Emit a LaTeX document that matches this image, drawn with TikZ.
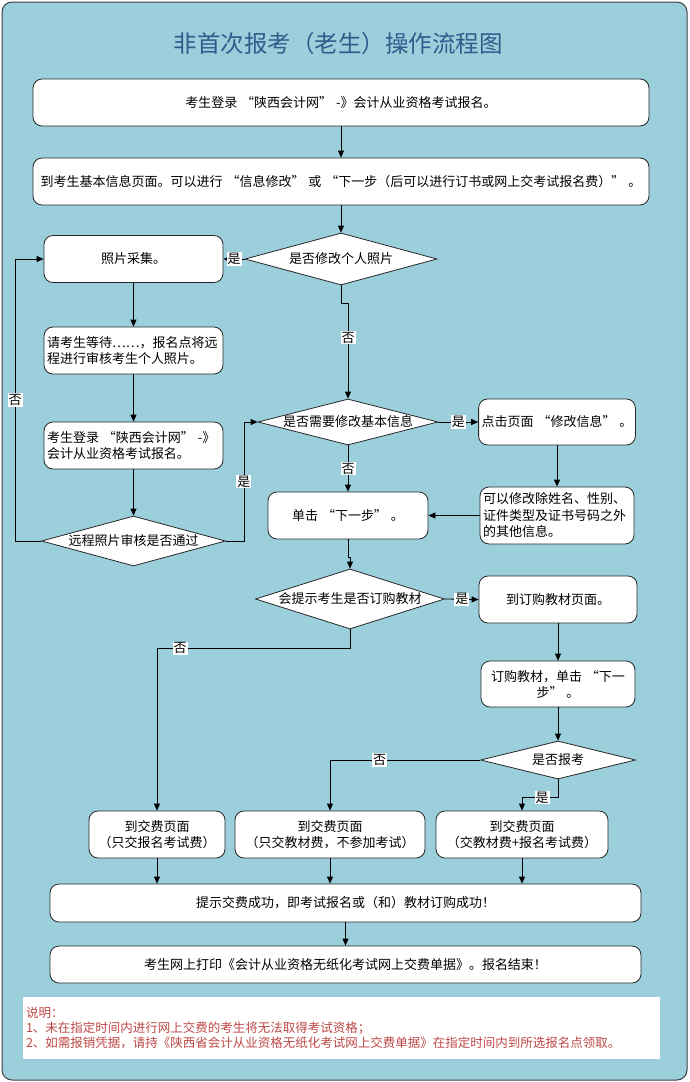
\documentclass[tikz,border=0pt]{standalone}
\usepackage{fontspec}
\setmainfont{Noto Sans CJK SC}
\newcommand{\oq}{\hspace{0.3em}“}
\newcommand{\cq}{”\hspace{0.3em}}
\usetikzlibrary{arrows.meta,shapes.geometric}
\definecolor{panelblue}{RGB}{155,207,220}
\definecolor{titleblue}{RGB}{46,93,140}
\definecolor{notered}{RGB}{190,72,70}
\begin{document}
\begin{tikzpicture}[x=1pt,y=-1pt,
  box/.style={draw=black!85,fill=white,rounded corners=9pt,line width=0.8pt,align=center,
    inner sep=3pt,font=\fontsize{13}{16}\selectfont},
  ask/.style={diamond,draw=black!85,fill=white,line width=0.8pt,inner sep=0pt,
    font=\fontsize{13}{16}\selectfont},
  arr/.style={-{Triangle[length=7pt,width=6pt]},line width=0.8pt},
  lbl/.style={fill=white,inner sep=1pt,font=\fontsize{13}{14}\selectfont}]
\useasboundingbox (0,0) rectangle (689,1082);
\draw[black!75,fill=panelblue,rounded corners=10pt,line width=1pt] (2,2) rectangle (687,1080);
\node[font=\fontsize{23.5}{28}\selectfont,text=titleblue] (title) at (338,44) {非首次报考（老生）操作流程图};

\node[box,minimum width=616,minimum height=47] (login) at (341,102.5) {考生登录\oq 陕西会计网\cq -》会计从业资格考试报名。};
\node[box,minimum width=616,minimum height=47] (info) at (341,181.5) {到考生基本信息页面。可以进行\oq 信息修改\cq 或\oq 下一步（后可以进行订书或网上交考试报名费）\cq 。};
\node[ask,aspect=3.7,minimum width=192,minimum height=52] (qPhoto) at (341,259) {是否修改个人照片};
\node[box,minimum width=179,minimum height=47] (photo) at (133.5,259) {照片采集。};
\node[box,text width=173,align=left,minimum height=47] (wait) at (133.5,350.5) {请考生等待……，报名点将远\\程进行审核考生个人照片。};
\node[box,text width=173,align=left,minimum height=47] (relog) at (133.5,445.5) {考生登录\oq 陕西会计网\cq\mbox{-》}\\会计从业资格考试报名。};
\node[ask,aspect=3.68,minimum width=184,minimum height=50] (qPass) at (133.5,541) {远程照片审核是否通过};
\node[ask,aspect=3.9,minimum width=180,minimum height=46] (qBasic) at (348,422) {是否需要修改基本信息};
\node[box,minimum width=154,minimum height=46] (edit) at (557,422) {点击页面\oq 修改信息\cq 。};
\node[box,text width=148,align=left,minimum height=57,font=\fontsize{13}{16.5}\selectfont] (editInfo) at (557,515.5) {可以修改除姓名、性别、\\证件类型及证书号码之外\\的其他信息。};
\node[box,minimum width=160,minimum height=47] (next) at (348,515.5) {单击\oq 下一步\cq 。};
\node[ask,aspect=3.15,minimum width=189,minimum height=60] (qBook) at (350,599) {会提示考生是否订购教材};
\node[box,minimum width=158,minimum height=47] (bookPage) at (558,599.5) {到订购教材页面。};
\node[box,minimum width=154,minimum height=46] (bookNext) at (558,684) {订购教材，单击\oq 下一\\步\cq 。};
\node[ask,aspect=4.1,minimum width=155,minimum height=38] (qExam) at (558,760) {是否报考};
\node[box,minimum width=136,minimum height=47] (payA) at (157,834.5) {到交费页面\\（只交报名考试费）};
\node[box,minimum width=190,minimum height=47] (payB) at (330,834.5) {到交费页面\\（只交教材费，不参加考试）};
\node[box,minimum width=172,minimum height=47] (payC) at (522,834.5) {到交费页面\\（交教材费+报名考试费）};
\node[box,minimum width=591,minimum height=38] (done) at (345.5,903) {提示交费成功，即考试报名或（和）教材订购成功！};
\node[box,minimum width=591,minimum height=37] (finish) at (345.5,964.5) {考生网上打印《会计从业资格无纸化考试网上交费单据》。报名结束！};
\node[fill=white,text=notered,text width=631,minimum height=62,inner sep=3pt,align=left,
  font=\fontsize{12.5}{15}\selectfont] (notes) at (341.5,1028) {说明：\\1、未在指定时间内进行网上交费的考生将无法取得考试资格；\\2、如需报销凭据，请持《陕西省会计从业资格无纸化考试网上交费单据》在指定时间内到所选报名点领取。};

\draw[arr] (login) -- (info);
\draw[arr] (info) -- (qPhoto);
\draw[arr] (qPhoto.west) -- node[lbl]{是} (photo.east);
\draw[arr] (photo) -- (wait);
\draw[arr] (wait) -- (relog);
\draw[arr] (relog) -- (qPass);
\draw[arr] (qPass.west) -- ++(-26,0) |- node[lbl,pos=0.25]{否} (photo.west);
\draw[arr] (qPass.east) -- ++(18,0) |- node[lbl,pos=0.25]{是} (qBasic.west);
\draw[arr] (qPhoto.south) -- ++(0,18) -| node[lbl,pos=0.68]{否} (qBasic.north);
\draw[arr] (qBasic.east) -- node[lbl]{是} (edit.west);
\draw[arr] (edit) -- (editInfo);
\draw[arr] (editInfo.west) -- (next.east);
\draw[arr] (qBasic.south) -- node[lbl]{否} (next.north);
\draw[arr] (next.south) -- ++(0,18) -| (qBook.north);
\draw[arr] (qBook.east) -- node[lbl]{是} (bookPage.west);
\draw[arr] (bookPage) -- (bookNext);
\draw[arr] (bookNext) -- (qExam);
\draw[arr] (qBook.south) -- ++(0,19) -| node[lbl,pos=0.44]{否} (payA.north);
\draw[arr] (qExam.west) -| node[lbl,pos=0.335]{否} (payB.north);
\draw[arr] (qExam.south) -- ++(0,18) -| node[lbl,pos=0.22]{是} (payC.north);
\foreach \p in {payA,payB,payC}
  \draw[arr] (\p.south) -- (\p.south |- done.north);
\draw[arr] (done) -- (finish);
\end{tikzpicture}
\end{document}
